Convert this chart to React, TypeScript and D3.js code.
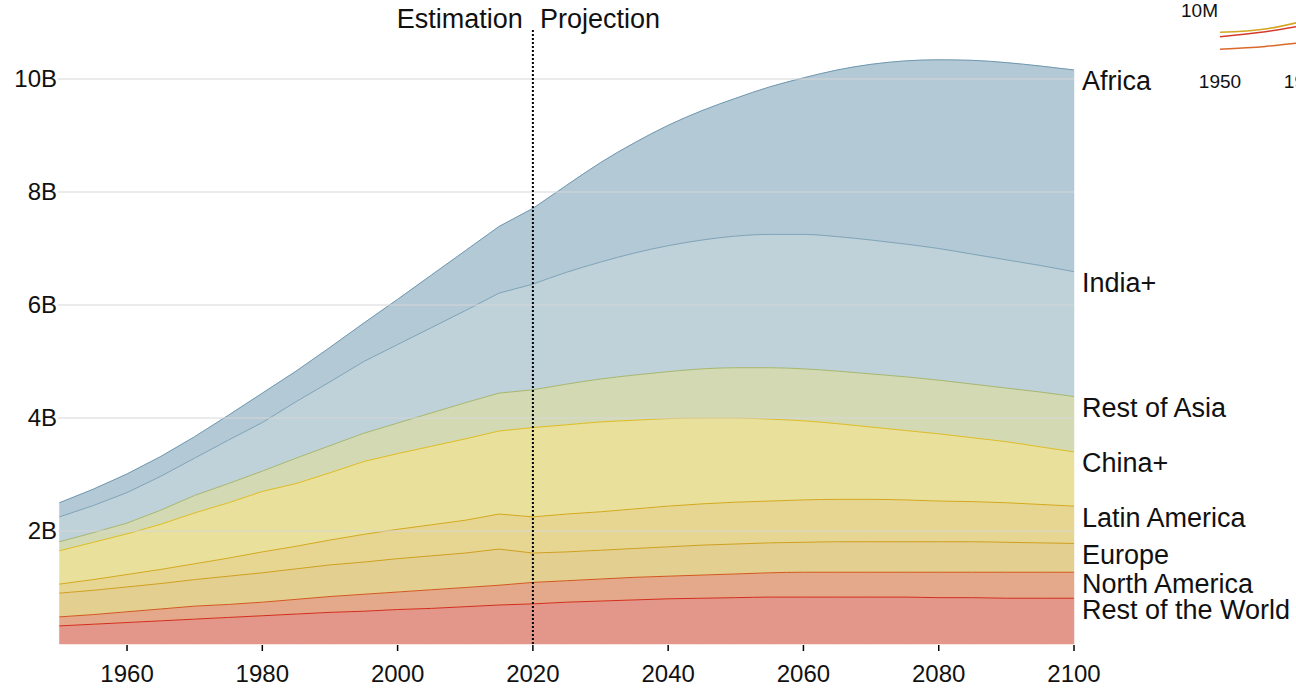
import React from 'react';
import * as d3 from 'd3';

// ---- Data (billions of people), 5-year steps ----
const years = [1950, 1955, 1960, 1965, 1970, 1975, 1980, 1985, 1990, 1995, 2000, 2005, 2010, 2015, 2020,
  2025, 2030, 2035, 2040, 2045, 2050, 2055, 2060, 2065, 2070, 2075, 2080, 2085, 2090, 2095, 2100];

const restOfWorld = [0.32, 0.35, 0.38, 0.41, 0.44, 0.47, 0.50, 0.53, 0.56, 0.58, 0.61, 0.63, 0.66, 0.69, 0.71,
  0.74, 0.76, 0.78, 0.80, 0.81, 0.82, 0.83, 0.83, 0.83, 0.83, 0.83, 0.82, 0.82, 0.81, 0.81, 0.81];
const northAmerica = [0.16, 0.17, 0.19, 0.21, 0.23, 0.23, 0.24, 0.26, 0.28, 0.30, 0.31, 0.33, 0.34, 0.35, 0.38,
  0.38, 0.39, 0.40, 0.40, 0.41, 0.42, 0.43, 0.44, 0.44, 0.44, 0.44, 0.45, 0.45, 0.46, 0.46, 0.46];
const europe = [0.42, 0.43, 0.44, 0.45, 0.47, 0.50, 0.52, 0.54, 0.56, 0.57, 0.59, 0.60, 0.61, 0.64, 0.52,
  0.51, 0.51, 0.51, 0.52, 0.53, 0.53, 0.53, 0.53, 0.54, 0.54, 0.54, 0.54, 0.54, 0.53, 0.52, 0.51];
const latinAmerica = [0.16, 0.19, 0.22, 0.25, 0.28, 0.32, 0.37, 0.40, 0.44, 0.49, 0.52, 0.55, 0.58, 0.62, 0.64,
  0.67, 0.68, 0.70, 0.72, 0.73, 0.74, 0.74, 0.75, 0.75, 0.75, 0.74, 0.72, 0.71, 0.70, 0.68, 0.66];
const chinaPlus = [0.59, 0.66, 0.72, 0.80, 0.90, 0.98, 1.07, 1.11, 1.19, 1.29, 1.34, 1.39, 1.44, 1.47, 1.58,
  1.58, 1.59, 1.57, 1.55, 1.52, 1.49, 1.45, 1.40, 1.34, 1.28, 1.23, 1.19, 1.13, 1.08, 1.02, 0.96];
const restOfAsia = [0.16, 0.17, 0.19, 0.25, 0.31, 0.34, 0.36, 0.45, 0.48, 0.50, 0.54, 0.59, 0.64, 0.67, 0.67,
  0.72, 0.76, 0.80, 0.83, 0.87, 0.89, 0.91, 0.92, 0.93, 0.94, 0.95, 0.95, 0.95, 0.95, 0.97, 0.98];
const indiaPlus = [0.44, 0.48, 0.54, 0.60, 0.66, 0.77, 0.86, 1.00, 1.13, 1.27, 1.39, 1.51, 1.63, 1.77, 1.87,
  1.98, 2.07, 2.16, 2.23, 2.28, 2.33, 2.36, 2.38, 2.38, 2.37, 2.35, 2.33, 2.30, 2.27, 2.24, 2.21];
const africa = [0.25, 0.29, 0.33, 0.35, 0.38, 0.44, 0.52, 0.54, 0.61, 0.68, 0.80, 0.93, 1.06, 1.18, 1.34,
  1.54, 1.76, 1.95, 2.13, 2.29, 2.44, 2.61, 2.77, 2.95, 3.11, 3.24, 3.34, 3.43, 3.49, 3.53, 3.57];

const regionNames = ['Rest of the World', 'North America', 'Europe', 'Latin America', 'China+', 'Rest of Asia', 'India+', 'Africa'];
const regionValues = [restOfWorld, northAmerica, europe, latinAmerica, chinaPlus, restOfAsia, indiaPlus, africa];
const fillColors = ['#e3968a', '#e3a98a', '#e3cf90', '#e7d692', '#e9e09c', '#d3dab3', '#bfd1d9', '#b4c9d6'];
const strokeColors = ['#d42d1c', '#d4561f', '#cf9f1f', '#d4a81c', '#e0bd22', '#a8b86c', '#7fa4b8', '#6e98b0'];

const yTicks = [2, 4, 6, 8, 10];
const yTickLabels = ['2B', '4B', '6B', '8B', '10B'];
const xTicks = [1960, 1980, 2000, 2020, 2040, 2060, 2080, 2100];
const splitYear = 2020;

// inset (partly off-screen small chart)
const insetYears = [1950, 1966, 1977];
const insetYellow = [5.65, 6.33, 7.6];
const insetRed = [4.76, 5.78, 6.8];
const insetOrange = [2.18, 2.76, 3.41];
const insetColors = ['#d4a520', '#d63a2a', '#d9682a'];
const insetTicks = [1950, 1980];
const insetTickLabels = ['1950', '1980'];

const FONT = '"Liberation Sans", Arial, Helvetica, sans-serif';

export default function App() {
  const W = 1296, H = 689;
  const x = d3.scaleLinear().domain([1950, 2100]).range([59.4, 1074]);
  const y = d3.scaleLinear().domain([0, 10]).range([644, 79]);

  const rows = years.map((yr, i) => {
    const r: any = { year: yr };
    regionNames.forEach((n, k) => { r[n] = regionValues[k][i]; });
    return r;
  });
  const series = d3.stack<any>().keys(regionNames)(rows);

  const mkArea = (curve: any) => d3.area<any>()
    .x((d) => x(d.data.year))
    .y0((d) => y(d[0]))
    .y1((d) => y(d[1]))
    .curve(curve);
  const mkLine = (curve: any) => d3.line<any>()
    .x((d) => x(d.data.year))
    .y((d) => y(d[1]))
    .curve(curve);
  const estArea = mkArea(d3.curveLinear);
  const projArea = mkArea(d3.curveMonotoneX);
  const estLine = mkLine(d3.curveLinear);
  const projLine = mkLine(d3.curveMonotoneX);

  const est = (s: any[]) => s.filter((d) => d.data.year <= splitYear);
  const proj = (s: any[]) => s.filter((d) => d.data.year >= splitYear);

  // inset scales
  const ix = d3.scaleLinear().domain([1950, 1980]).range([1220, 1305]);
  const iy = d3.scaleLinear().domain([0, 10]).range([60, 11]);
  const iline = d3.line<number>()
    .x((_, i) => ix(insetYears[i]))
    .y((d) => iy(d))
    .curve(d3.curveMonotoneX);

  const last = years.length - 1;

  return (
    <svg width={W} height={H} style={{ position: 'fixed', left: 0, top: 0, display: 'block', background: '#fff' }}
      fontFamily={FONT}>
      {/* areas */}
      {series.map((s, k) => (
        <g key={'a' + k}>
          <path d={estArea(est(s)) || ''} fill={fillColors[k]} stroke={fillColors[k]} strokeWidth={0.5} />
          <path d={projArea(proj(s)) || ''} fill={fillColors[k]} stroke={fillColors[k]} strokeWidth={0.5} />
        </g>
      ))}
      {series.map((s, k) => (
        <g key={'l' + k}>
          <path d={estLine(est(s)) || ''} fill="none" stroke={strokeColors[k]} strokeWidth={1} />
          <path d={projLine(proj(s)) || ''} fill="none" stroke={strokeColors[k]} strokeWidth={1} />
        </g>
      ))}

      {/* gridlines on top */}
      {yTicks.map((t) => (
        <line key={'g' + t} x1={58} x2={1074} y1={y(t)} y2={y(t)} stroke="#d6d6d6" strokeOpacity={0.65} strokeWidth={1.5} />
      ))}
      {yTicks.map((t, i) => (
        <text key={'yt' + t} x={57} y={y(t)} dy="0.35em" textAnchor="end" fontSize={24} fill="#111">{yTickLabels[i]}</text>
      ))}

      {/* x axis */}
      {xTicks.map((t) => (
        <g key={'xt' + t}>
          <line x1={x(t)} x2={x(t)} y1={645} y2={651} stroke="#000" strokeWidth={1.5} />
          <text x={x(t)} y={682} textAnchor="middle" fontSize={24} fill="#111">{t}</text>
        </g>
      ))}

      {/* estimation / projection divider */}
      <line x1={x(splitYear)} x2={x(splitYear)} y1={30} y2={644} stroke="#000" strokeWidth={2} strokeDasharray="2,2" />
      <text x={x(splitYear) - 10} y={28} textAnchor="end" fontSize={27} fill="#111">Estimation</text>
      <text x={x(splitYear) + 7} y={28} textAnchor="start" fontSize={27} fill="#111">Projection</text>

      {/* region labels at right end */}
      {series.map((s, k) => (
        <text key={'lab' + k} x={1082} y={y(s[last][1]) + 20.5} fontSize={27} fill="#111">{regionNames[k]}</text>
      ))}

      {/* inset */}
      <text x={1218} y={17} textAnchor="end" fontSize={19} fill="#111">10M</text>
      {[insetYellow, insetRed, insetOrange].map((vals, k) => (
        <path key={'il' + k} d={iline(vals) || ''} fill="none" stroke={insetColors[k]} strokeWidth={1.5} />
      ))}
      {insetTicks.map((t, i) => (
        <text key={'it' + t} x={ix(t)} y={88} textAnchor="middle" fontSize={19} fill="#111">{insetTickLabels[i]}</text>
      ))}
    </svg>
  );
}
